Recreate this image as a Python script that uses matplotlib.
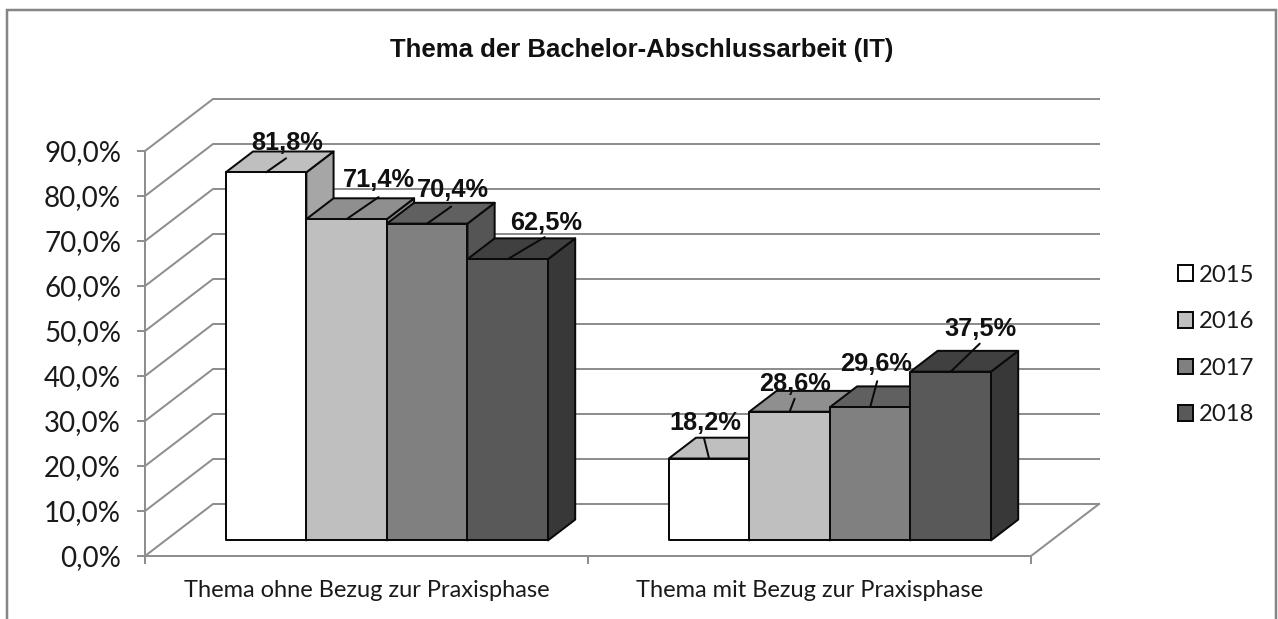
import matplotlib
matplotlib.use("Agg")
import matplotlib.pyplot as plt
from matplotlib.patches import Polygon, Patch, Rectangle

categories = ["Thema ohne Bezug zur Praxisphase", "Thema mit Bezug zur Praxisphase"]
years = ["2015", "2016", "2017", "2018"]
values_2015 = [81.8, 18.2]
values_2016 = [71.4, 28.6]
values_2017 = [70.4, 29.6]
values_2018 = [62.5, 37.5]
series = [values_2015, values_2016, values_2017, values_2018]
y_ticks = [0, 10, 20, 30, 40, 50, 60, 70, 80, 90]

front_colors = ["#FFFFFF", "#BFBFBF", "#808080", "#595959"]
top_colors = ["#BFBFBF", "#8F8F8F", "#606060", "#404040"]
side_colors = ["#A6A6A6", "#8A8A8A", "#555555", "#383838"]
GRID = "#8E8E8E"
TEXT = "#1A1A1A"

W, H = 1278, 619
PX = 72 / 100  # points per pixel
L, R, B, T = 145, 1031, 556, 151

fig = plt.figure(figsize=(W / 100, H / 100), dpi=100, facecolor="white")
ax = fig.add_axes([L / W, 1 - B / H, (R - L) / W, (B - T) / H])
ax.set_xlim(0, 2)
ax.set_ylim(0, 90)
ax.patch.set_visible(False)

# depth of the 3D box in data units
DX = 68 / ((R - L) / 2)
DY = 52 / ((B - T) / 90)
BAR_W = 1 / 5.5
GAP = 0.75 / 5.5
Z0, Z1 = 0.30, 0.70


def proj(x, y, z):
    return x + z * DX, y + z * DY


# walls and floor
for v in y_ticks:
    pts = [proj(0, v, 0), proj(0, v, 1), proj(2, v, 1)]
    ax.plot(*zip(*pts), color=GRID, lw=2 * PX, clip_on=False, zorder=1, solid_joinstyle="round")
ax.plot(*zip(proj(2, 0, 0), proj(2, 0, 1)), color=GRID, lw=2 * PX, clip_on=False, zorder=1)

# axes
for s in ("top", "right"):
    ax.spines[s].set_visible(False)
for s in ("left", "bottom"):
    ax.spines[s].set_color(GRID)
    ax.spines[s].set_linewidth(2 * PX)
ax.set_yticks(y_ticks)
ax.set_yticklabels([f"{v:.1f}%".replace(".", ",") for v in y_ticks], fontfamily="Lato", fontsize=20, color=TEXT)
ax.set_xticks([0, 1, 2])
ax.set_xticklabels([])
ax.set_xticks([0.5, 1.5], minor=True)
ax.set_xticklabels(categories, minor=True, fontfamily="Lato", fontsize=17, color=TEXT)
ax.tick_params(axis="y", length=8 * PX, width=2 * PX, color=GRID, pad=16 * PX)
ax.tick_params(axis="x", which="major", length=8 * PX, width=2 * PX, color=GRID)
ax.tick_params(axis="x", which="minor", length=0, pad=24 * PX)

# bars, painted left to right so that each covers its neighbour's side
for k in range(len(categories)):
    for i, vals in enumerate(series):
        v = vals[k]
        x0 = k + GAP + i * BAR_W
        x1 = x0 + BAR_W
        kw = dict(edgecolor="#0A0A0A", lw=2 * PX, clip_on=False, joinstyle="round", zorder=3 + k * 10 + i)
        ax.add_patch(Polygon([proj(x1, 0, Z0), proj(x1, 0, Z1), proj(x1, v, Z1), proj(x1, v, Z0)],
                             facecolor=side_colors[i], **kw))
        ax.add_patch(Polygon([proj(x0, v, Z0), proj(x1, v, Z0), proj(x1, v, Z1), proj(x0, v, Z1)],
                             facecolor=top_colors[i], **kw))
        ax.add_patch(Polygon([proj(x0, 0, Z0), proj(x1, 0, Z0), proj(x1, v, Z0), proj(x0, v, Z0)],
                             facecolor=front_colors[i], **kw))

# data labels with their leader lines; offsets are pixels from the bar's front top edge
leader_offsets = [[(20, 14), (32, 22), (24, 17), (37, 22)], [(-5, 20), (5, 13), (7, 26), (29, 28)]]
label_offsets = [[(21, 29), (32, 39), (26, 34), (38, 36)], [(-4, 36), (5, 28), (6, 43), (30, 43)]]
for k in range(len(categories)):
    for i, vals in enumerate(series):
        v = vals[k]
        anchor = proj(k + GAP + (i + 0.5) * BAR_W, v, Z0)
        ax.annotate("", xy=anchor, xytext=leader_offsets[k][i], xycoords="data", textcoords="offset pixels",
                    arrowprops=dict(arrowstyle="-", color="#0A0A0A", lw=2 * PX, shrinkA=0, shrinkB=0),
                    annotation_clip=False, zorder=40)
        ax.annotate(f"{v:.1f}%".replace(".", ","), xy=anchor, xytext=label_offsets[k][i], xycoords="data",
                    textcoords="offset pixels", ha="center", va="center", fontfamily="Liberation Sans",
                    fontweight="bold", fontsize=18.3, color="#111111", annotation_clip=False, zorder=41)

fig.text(642 / W, 1 - 50 / H, "Thema der Bachelor-Abschlussarbeit (IT)", ha="center", va="center",
         fontfamily="Liberation Sans", fontweight="bold", fontsize=18.5, color="#111111")

handles = [Patch(facecolor=c, edgecolor="#0A0A0A", lw=2 * PX) for c in front_colors]
fig.legend(handles, years, loc="center left", bbox_to_anchor=(1178 / W, 1 - 345 / H), frameon=False,
           prop=dict(family="Lato", size=17.2), labelcolor=TEXT, handlelength=0.63, handleheight=0.63,
           handletextpad=0.25, labelspacing=1.07, borderpad=0, borderaxespad=0)

# chart frame, its bottom edge lies outside the picture
fig.add_artist(Rectangle((6.5 / W, -0.1), (1276 - 6.5) / W, 1.1 - 10.5 / H, transform=fig.transFigure,
                         fill=False, edgecolor="#868686", lw=2.5 * PX))

fig.savefig("out.png", dpi=100)
